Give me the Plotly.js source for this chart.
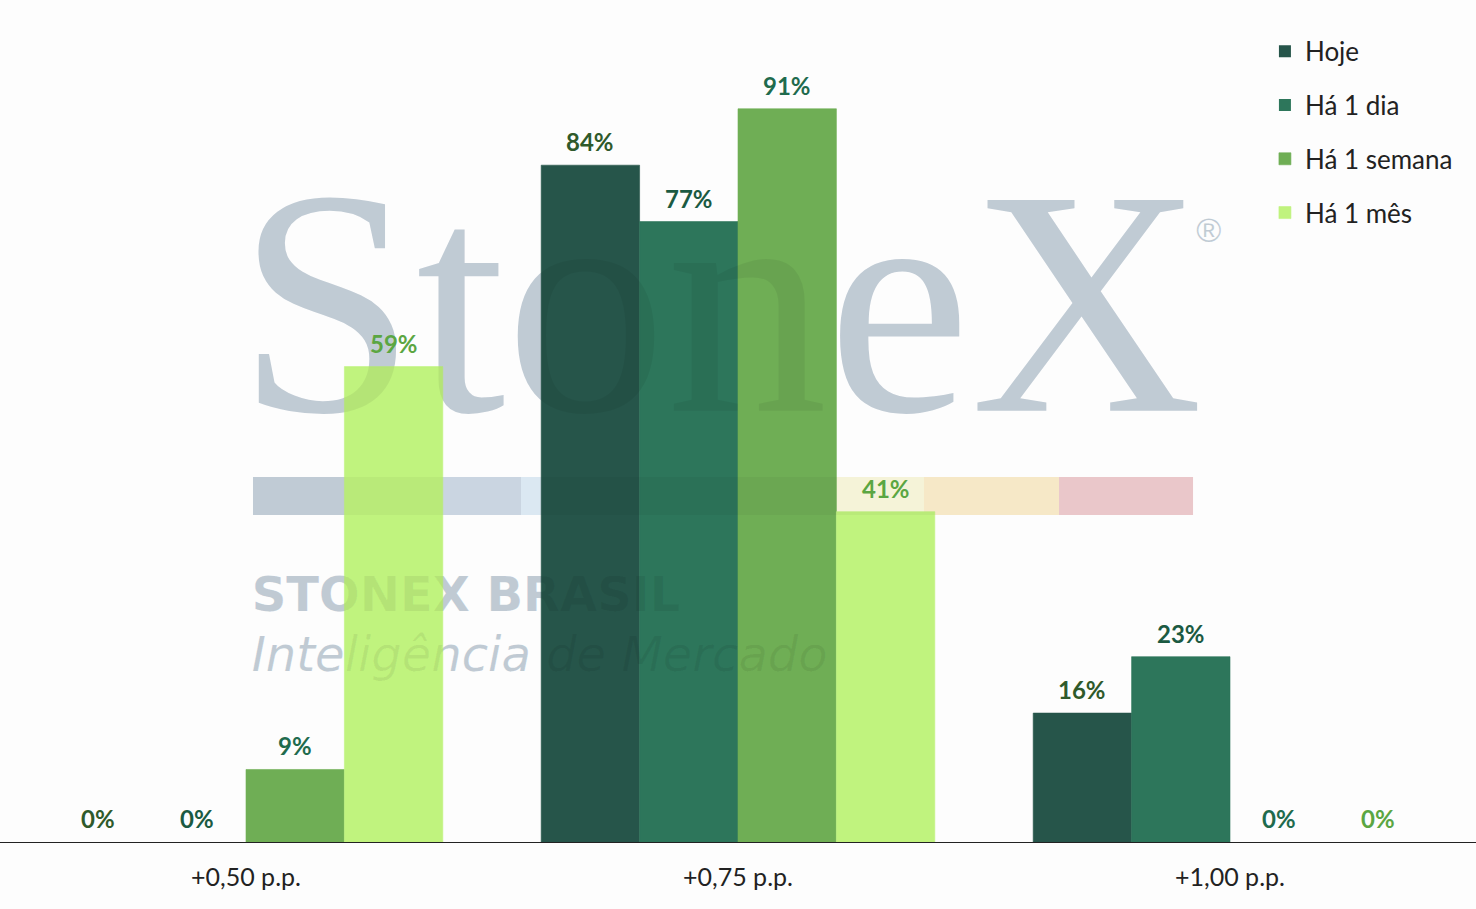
<!DOCTYPE html>
<html>
<head>
<meta charset="utf-8">
<script src="https://cdn.plot.ly/plotly-3.0.1.min.js"></script>
<style>html,body{margin:0;padding:0;background:#fdfdfd;}#chart{width:1476px;height:909px;}</style>
</head>
<body>
<div id="chart"></div>
<script>
const categories = ["+0,50 p.p.", "+0,75 p.p.", "+1,00 p.p."];
const seriesNames = ["Hoje", "Há 1 dia", "Há 1 semana", "Há 1 mês"];
const hoje = [0, 84, 16];
const ha1dia = [0, 77, 23];
const ha1semana = [9, 91, 0];
const ha1mes = [59, 41, 0];
const seriesValues = [hoje, ha1dia, ha1semana, ha1mes];
const barColors = ["#26554a", "#2d765b", "#6fae55", "#c0f37e"];
const labelColors = ["#2f5a2b", "#1b5a42", "#1f6b4d", "#5ba642"];

const W = 1476, H = 909, MB = 67;
const BARGAP = 0.2;

const traces = seriesNames.map((name, i) => ({
  type: "bar",
  name: name,
  x: categories,
  y: seriesValues[i],
  legendgroup: "g" + i,
  marker: {color: barColors[i], line: {width: seriesValues[i].map(v => v > 0 ? 0.6 : 0), color: barColors[i]}},
  hoverinfo: "skip"
}));

// data labels placed through the axes, offset to each bar of the group
const slotPx = W / categories.length * (1 - BARGAP) / seriesNames.length;
const labelAnnotations = [];
seriesValues.forEach((vals, i) => {
  vals.forEach((v, j) => {
    labelAnnotations.push({
      xref: "x", yref: "y", x: categories[j], y: v,
      xshift: (i - (seriesNames.length - 1) / 2) * slotPx,
      yanchor: "bottom", yshift: 7, showarrow: false,
      text: "<b>" + v + "%</b>",
      font: {family: "Lato", size: 24, color: labelColors[i]}
    });
  });
});

// watermark (logo) drawn as shape labels: solid below bars + faint tint above bars
const wmBelow = "rgb(205,216,226)";
const wmAbove = "rgba(0,0,0,0.06)";
const wmTexts = [
  {x0: 0.1585, x1: 0.95, y0: 0.4826, y1: 0.8826, text: "StoneX", font: {family: "Liberation Serif", size: 322}},
  {x0: 0.80, x1: 0.838, y0: 0.703, y1: 0.757, text: "®", font: {family: "Liberation Sans", size: 34}, pos: "middle center"},
  {x0: 0.1685, x1: 0.7, y0: 0.268, y1: 0.328, text: "<b>STONEX BRASIL</b>", font: {family: "DejaVu Sans", size: 48, weight: 700}},
  {x0: 0.1685, x1: 0.8, y0: 0.197, y1: 0.257, text: "<i>Inteligência de Mercado</i>", font: {family: "DejaVu Sans", size: 48, weight: 200, style: "italic"}}
];
const shapes = [];
["below", "above"].forEach(layer => {
  wmTexts.forEach(t => {
    shapes.push({
      type: "rect", xref: "paper", yref: "paper",
      x0: t.x0, x1: t.x1, y0: t.y0, y1: t.y1,
      fillcolor: "rgba(0,0,0,0)", line: {width: 0}, layer: layer,
      label: {text: t.text, textposition: t.pos || "middle left", padding: 0,
        font: Object.assign({}, t.font, {color: layer === "below" ? wmBelow : wmAbove})}
    });
  });
});

const stripX = [0.1714, 0.2622, 0.3530, 0.4444, 0.5352, 0.6260, 0.7175, 0.8083];
const stripColors = ["rgb(199,211,221)", "rgb(210,221,234)", "rgb(228,241,251)",
  "rgb(228,244,223)", "rgb(254,252,224)", "rgb(255,241,207)", "rgb(243,207,210)"];
stripColors.forEach((c, i) => {
  shapes.push({
    type: "rect", xref: "paper", yref: "paper",
    x0: stripX[i], x1: stripX[i + 1], y0: 0.3884, y1: 0.4335,
    fillcolor: c, line: {width: 0}, layer: "below"
  });
});
shapes.push({
  type: "rect", xref: "paper", yref: "paper",
  x0: stripX[0], x1: stripX[stripX.length - 1], y0: 0.3884, y1: 0.4335,
  fillcolor: "rgba(0,0,0,0.035)", line: {width: 0}, layer: "above"
});

const layout = {
  width: W, height: H,
  margin: {l: 0, r: 0, t: 0, b: MB},
  paper_bgcolor: "#fdfdfd",
  plot_bgcolor: "rgba(0,0,0,0)",
  barmode: "group",
  bargap: BARGAP,
  bargroupgap: 0,
  font: {family: "Lato", color: "#222222"},
  xaxis: {
    type: "category",
    range: [-0.5, 2.5],
    showline: true, linecolor: "#222222", linewidth: 1,
    showgrid: false, zeroline: false,
    ticks: "",
    ticklabelstandoff: 13,
    tickfont: {family: "Lato", size: 25, color: "#222222"}
  },
  yaxis: {
    range: [0, 104.5],
    visible: false,
    showgrid: false, zeroline: false
  },
  showlegend: true,
  legend: {
    x: 0.857, y: 0.967, xanchor: "left", yanchor: "top",
    bgcolor: "rgba(0,0,0,0)",
    font: {family: "Lato", size: 26, color: "#222222"},
    traceorder: "grouped",
    tracegroupgap: 17,
    itemwidth: 30
  },
  shapes: shapes,
  annotations: labelAnnotations
};

Plotly.newPlot("chart", traces, layout, {displayModeBar: false, staticPlot: true});
</script>
</body>
</html>
